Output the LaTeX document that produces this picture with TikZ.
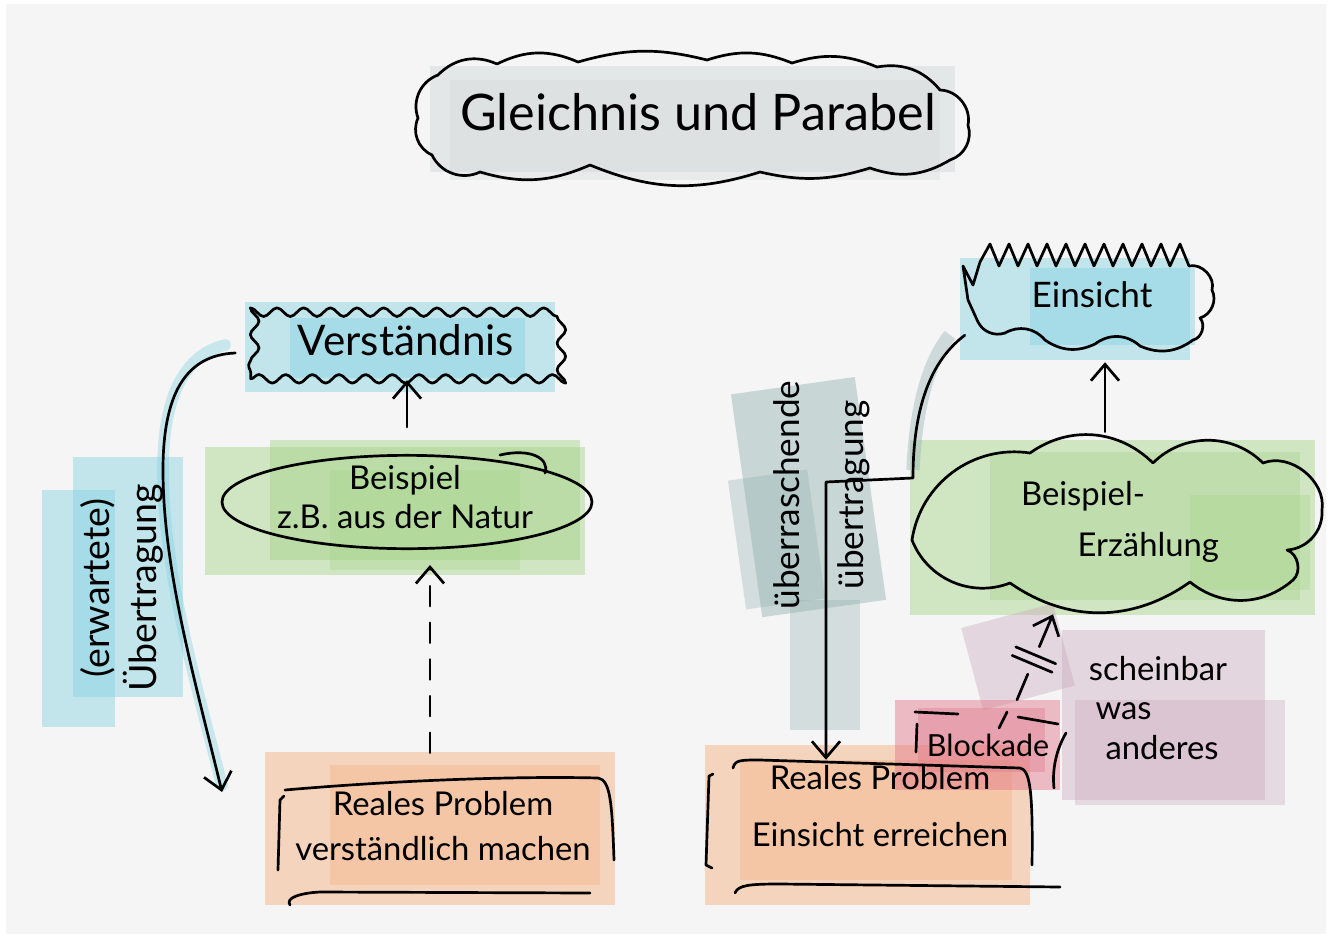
\documentclass[tikz,border=0pt]{standalone}
\usepackage{fontspec}
\setmainfont{Lato}
\usetikzlibrary{arrows.meta,calc,shapes.geometric,decorations.pathmorphing}
\definecolor{paper}{HTML}{F5F5F5}
\definecolor{mgray}{HTML}{D0D6D6}
\definecolor{mblue}{HTML}{84D2E3}
\definecolor{mgreen}{HTML}{A3D386}
\definecolor{morange}{HTML}{F6AE7A}
\definecolor{mteal}{HTML}{94B2B2}
\definecolor{mred}{HTML}{E07487}
\definecolor{mmauve}{HTML}{CBA8BD}
\tikzset{
  ink/.style={line width=2.3pt, draw=black, line cap=round, line join=round},
  arr/.style={ink, -{Straight Barb[length=14pt,width=24pt]}},
  hl/.style={fill opacity=0.45},
  ghost/.style={inner sep=0pt, draw=none},
  txt/.style={inner sep=0pt, align=center, text=black},
}
\begin{document}
\begin{tikzpicture}[x=0.03cm,y=-0.03cm]
\fill[white] (0,0) rectangle (1330,939);
\fill[paper] (6,4) rectangle (1326,934);
\useasboundingbox (0,0) rectangle (1330,939);

% ---------- marker highlights ----------
\fill[mgray,hl] (430,66) rectangle (955,172);
\fill[mgray,fill opacity=0.3] (450,80) rectangle (940,180);
\fill[mblue,hl] (245,302) rectangle (555,392);
\fill[mblue,hl] (290,318) rectangle (525,378);
\draw[mblue, line width=0.35cm, opacity=0.4, line cap=round] (225,345) .. controls (185,355) and (163,395) .. (163,470) .. controls (163,570) and (195,680) .. (222,785);
\fill[mblue,hl] (42,490) rectangle (115,727);
\fill[mblue,hl] (73,457) rectangle (183,697);
\fill[mgreen,hl] (205,447) rectangle (585,575);
\fill[mgreen,hl] (270,440) rectangle (580,560);
\fill[mgreen,fill opacity=0.3] (330,470) rectangle (520,570);
\fill[morange,hl] (265,752) rectangle (615,905);
\fill[morange,fill opacity=0.35] (330,765) rectangle (600,885);
\fill[mblue,hl] (960,258) rectangle (1190,360);
\fill[mblue,hl] (1030,268) rectangle (1195,345);
\fill[mgreen,hl] (910,440) rectangle (1315,615);
\fill[mgreen,fill opacity=0.35] (990,452) rectangle (1300,600);
\fill[mgreen,fill opacity=0.3] (1190,495) rectangle (1310,590);
\draw[mteal, line width=0.4cm, opacity=0.4] (950,335) .. controls (925,365) and (915,420) .. (913,470);
\fill[mteal,hl,rotate around={8:(805,490)}] (745,385) rectangle (870,610);
\fill[mteal,fill opacity=0.35,rotate around={8:(805,490)}] (730,470) rectangle (810,600);
\fill[mteal,fill opacity=0.35] (790,600) rectangle (860,730);
\fill[morange,hl] (705,745) rectangle (1030,905);
\fill[morange,fill opacity=0.35] (740,760) rectangle (1012,880);
\fill[mmauve,fill opacity=0.4,rotate around={15:(1015,655)}] (970,615) rectangle (1065,700);
\fill[mmauve,fill opacity=0.4] (1062,630) rectangle (1265,800);
\fill[mmauve,fill opacity=0.35] (1075,700) rectangle (1285,805);
\fill[mred,hl] (895,700) rectangle (1060,790);
\fill[mred,fill opacity=0.35] (918,708) rectangle (1045,772);

% ---------- title ----------
\node[ghost, minimum width=16.8cm, minimum height=3.6cm] (title) at (693,115) {};
\draw[ink] (418,118) to[bend left=45] (438,75) to[bend left=35] (497,64) to[bend left=25] (578,62)
  to[bend left=15] (707,60) to[bend left=20] (792,63) to[bend left=20] (877,67) to[bend left=30] (940,90)
  to[bend left=50] (968,125) to[bend left=45] (950,160) to[bend left=25] (870,168) to[bend left=15] (760,172)
  to[bend left=20] (590,165) to[bend left=20] (480,172) to[bend left=45] (432,155) to[bend left=45] (418,118) -- cycle;
\node[txt, font=\fontsize{43}{50}\selectfont] (titleT) at (698,112) {Gleichnis und Parabel};

% ---------- left side ----------
\node[ink, draw, decorate, decoration={snake, segment length=0.8cm, amplitude=0.13cm},
      minimum width=9.2cm, minimum height=2.15cm, inner sep=0pt] (verst) at (404,343) {};
\node[txt, font=\fontsize{36}{42}\selectfont] (verstT) at (406,340) {Verständnis};

\node[ink, draw, ellipse, minimum width=11.1cm, minimum height=2.8cm, inner sep=0pt] (beisp) at (407,502) {};
\draw[ink] (500,455) .. controls (530,448) and (550,458) .. (545,473);
\node[txt, font=\fontsize{28}{34}\selectfont] (beispT) at (405,497) {Beispiel\\z.B. aus der Natur};

\node[ghost, minimum width=10.0cm, minimum height=3.66cm] (p1box) at (445,839) {};
\draw[ink] (285,790) .. controls (400,780) and (520,776) .. (598,778) .. controls (610,780) and (612,800) .. (614,860);
\draw[ink] (284,796) -- (280,800) -- (278,870);
\draw[ink] (290,905) .. controls (285,898) and (300,893) .. (320,892) -- (590,893);
\node[txt, font=\fontsize{28}{38}\selectfont] (p1T) at (443,826) {Reales Problem\\verständlich machen};

\draw[arr] ($(beisp.north)+(0,-27)$) -- (beisp.north |- verst.south);
\draw[arr, dash pattern=on 0.6cm off 0.5cm] ($(p1box.north)+(-15,-25)$) coordinate (dstart) -- ($(dstart |- beisp.south)+(0,15)$);

\coordinate (lend) at (222,792);
\draw[arr] ($(verst.west)+(-14,10)$) .. controls (185,355) and (163,395) .. (163,470) .. controls (163,570) and (195,680) .. (lend);
\node[txt, rotate=90, font=\fontsize{32}{40}\selectfont] (erwT) at (122,588) {(erwartete)\\Übertragung};

% ---------- right side ----------
\node[ghost, minimum width=8.52cm, minimum height=3.0cm] (ein) at (1105,297) {};
\draw[ink] (968,300) -- (963,266) -- (973,285) -- (980,262)
  \foreach \i in {0,...,10} { -- ({990+19*\i},244) -- ({999+19*\i},266) }
  to[bend left=60] (1212,290) to[bend left=50] (1200,318) to[bend left=60] (1193,340)
  to[bend left=30] (1140,346) to[bend right=40] (1095,344) to[bend left=30] (1045,340)
  to[bend right=40] (1005,333) to[bend left=40] (978,322) -- (968,300);
\node[txt, font=\fontsize{30}{36}\selectfont] (einT) at (1092,295) {Einsicht};

\node[ghost, minimum width=11.7cm, minimum height=4.74cm] (bsp2) at (1105,531) {};
\draw[ink] (912,540) to[bend left=45] (1030,453) to[bend left=40] (1153,463) to[bend left=45] (1263,463)
  to[bend left=60] (1322,510) to[bend left=45] (1287,550) to[bend left=60] (1293,580)
  to[bend left=40] (1190,582) to[bend left=35] (1010,583) to[bend left=45] (912,540) -- cycle;
\node[txt, align=left, font=\fontsize{28}{44}\selectfont] (bsp2T) at (1120,522) {Beispiel-\\\hspace*{1.7cm}Erzählung};

\draw[arr] ($(bsp2.north)+(0,-20)$) -- ($(ein.south)+(0,15)$);

\node[ghost, minimum width=9.8cm, minimum height=3.9cm] (p2box) at (871,825) {};
\draw[ink] (713,774) -- (709,776) -- (706,865) -- (712,868);
\draw[ink] (733,768) .. controls (735,760) and (740,760) .. (760,760) -- (1020,768) .. controls (1030,770) and (1033,790) .. (1032,865);
\draw[ink] (735,893) .. controls (738,885) and (750,884) .. (780,884) -- (1060,887);
\node[txt, font=\fontsize{28}{49}\selectfont] (p2T) at (880,806) {Reales Problem\\Einsicht erreichen};

\coordinate (ueturn) at (826,482);
\draw[arr] ($(ein.south west)+(2,-12)$) .. controls (925,365) and (913,420) .. (913,478) -- (ueturn) -- (ueturn |- p2box.north);
\node[txt, rotate=90, font=\fontsize{30}{55}\selectfont] (ueT) at (822,495) {überraschende\\übertragung};

\node[ghost, minimum width=4.95cm, minimum height=2.7cm] (block) at (977,745) {};
\node[txt, font=\fontsize{26}{30}\selectfont] (blockT) at (988,745) {Blockade};
\draw[ink] (915,712) -- (958,714);
\draw[ink] (917,724) -- (916,752);
\draw[ink] (1007,712) -- (999,728);
\draw[ink] (1018,717) -- (1058,724);
\draw[ink] (1066,733) .. controls (1056,750) and (1052,770) .. (1054,788);

\node[txt, align=left, font=\fontsize{28}{34}\selectfont] (scheinT) at (1158,708) {scheinbar\\\hspace*{0.2cm}was\\\hspace*{0.5cm}anderes};

\coordinate (bA) at ($(block.north)+(40,0)$);
\coordinate (bB) at ($(bsp2.south)+(-52,4)$);
\draw[ink] (bA) -- ($(bA)!0.3!(bB)$);
\draw[arr] ($(bA)!0.62!(bB)$) -- (bB);
\coordinate (m1) at ($(bA)!0.42!(bB)$);
\coordinate (m2) at ($(bA)!0.52!(bB)$);
\draw[ink] ($(m1)!0.65cm!90:(bB)$) -- ($(m1)!0.65cm!-90:(bB)$);
\draw[ink] ($(m2)!0.65cm!90:(bB)$) -- ($(m2)!0.65cm!-90:(bB)$);
\end{tikzpicture}
\end{document}
